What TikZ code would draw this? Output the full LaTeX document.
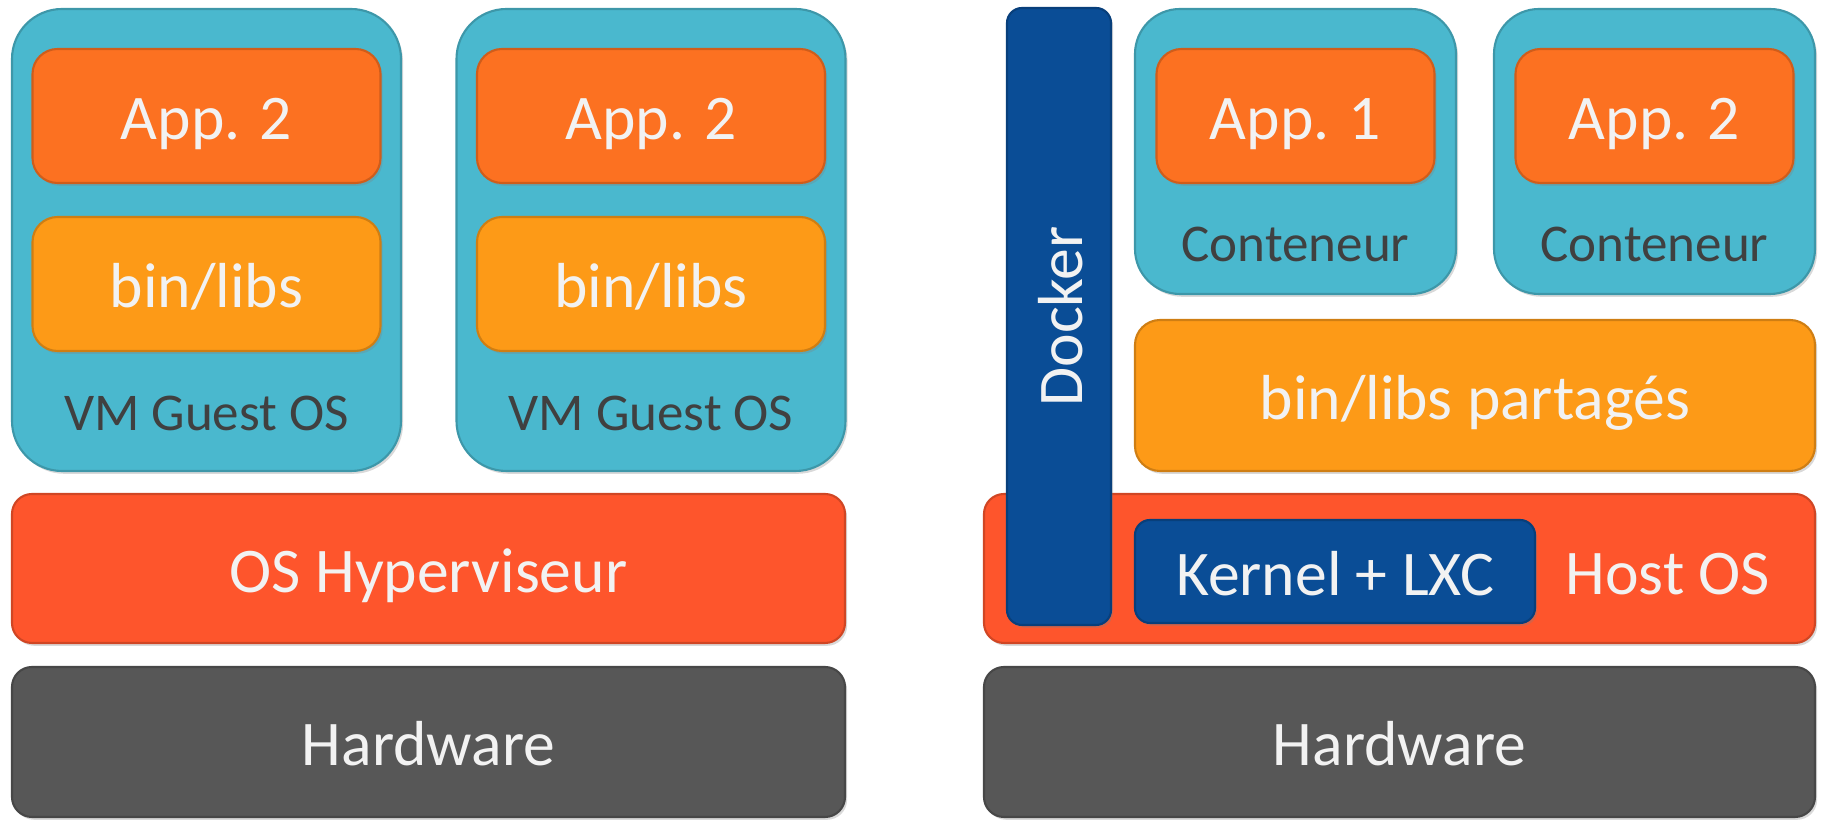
\documentclass[tikz,border=0pt]{standalone}
\usepackage{fontspec}
\setmainfont{Carlito}
\usetikzlibrary{shadows}
\definecolor{vmteal}{HTML}{4AB8CE}
\definecolor{apporange}{HTML}{FC7121}
\definecolor{liborange}{HTML}{FD9A17}
\definecolor{osred}{HTML}{FE552C}
\definecolor{dockblue}{HTML}{0A4D96}
\definecolor{hwgray}{HTML}{575757}
\definecolor{txtlight}{HTML}{F2F2F2}
\definecolor{txtdark}{HTML}{404040}
\begin{document}
\begin{tikzpicture}[
        layer/.style={draw=#1!82!black, fill=#1, line width=0.6pt, inner sep=0pt,
            text=txtlight, font=\fontsize{18.1}{20}\selectfont,
            text height=17pt, text depth=3.5pt,
            drop shadow={opacity=0.3, shadow xshift=0.6pt, shadow yshift=-0.8pt}},
        vmbox/.style={layer=vmteal, rounded corners=5mm},
        appbox/.style={layer=apporange, rounded corners=2.5mm},
        libbox/.style={layer=liborange, rounded corners=2.5mm},
        osbox/.style={layer=osred, rounded corners=2mm},
        hwbox/.style={layer=hwgray, rounded corners=2mm},
        bluebox/.style={layer=dockblue, rounded corners=1.5mm},
        guestlabel/.style={text=txtdark, font=\fontsize{15.1}{17}\selectfont},
        hostlabel/.style={text=txtlight, font=\fontsize{18.1}{20}\selectfont,
            text height=17pt, text depth=3.5pt, inner sep=0pt}
    ]
    \useasboundingbox (0,0) rectangle (18.23,-8.21);
    % virtual machines
    \foreach \cx/\n in {2.065/A, 6.51/B}{
        \node[vmbox, minimum width=3.89cm, minimum height=4.62cm] (vm\n) at (\cx,-2.40) {};
        \node[appbox, minimum width=3.48cm, minimum height=1.34cm] (app\n) at (\cx,-1.16) {App. 2};
        \node[libbox, minimum width=3.48cm, minimum height=1.34cm] (lib\n) at (\cx,-2.84) {bin/libs};
        \node[guestlabel] (guest\n) at (\cx,-4.13) {VM Guest OS};
    }
    \node[osbox, minimum width=8.33cm, minimum height=1.49cm] (hyper) at (4.285,-5.685) {OS Hyperviseur};
    \node[hwbox, minimum width=8.33cm, minimum height=1.50cm] (hwA) at (4.285,-7.42) {Hardware};
    % containers
    \foreach \cx/\n/\k in {12.955/A/1, 16.545/B/2}{
        \node[vmbox, rounded corners=4.5mm, minimum width=3.21cm, minimum height=2.85cm] (ctr\n) at (\cx,-1.515) {};
        \node[appbox, minimum width=2.78cm, minimum height=1.34cm] (app\k) at (\cx,-1.16) {App. \k};
        \node[guestlabel] (ctrlabel\n) at (\cx,-2.44) {Conteneur};
    }
    \node[libbox, minimum width=6.80cm, minimum height=1.51cm] (shared) at (14.75,-3.955) {bin/libs partagés};
    \node[osbox, minimum width=8.31cm, minimum height=1.49cm] (host) at (13.995,-5.685) {};
    \node[hostlabel] (hostname) at (16.68,-5.71) {Host OS};
    \node[bluebox, minimum width=4.00cm, minimum height=1.03cm] (kernel) at (13.35,-5.715) {Kernel + LXC};
    \node[bluebox, rotate=90, minimum width=6.17cm, minimum height=1.04cm] (docker) at (10.59,-3.165) {Docker};
    \node[hwbox, minimum width=8.31cm, minimum height=1.50cm] (hwB) at (13.995,-7.42) {Hardware};
\end{tikzpicture}
\end{document}
